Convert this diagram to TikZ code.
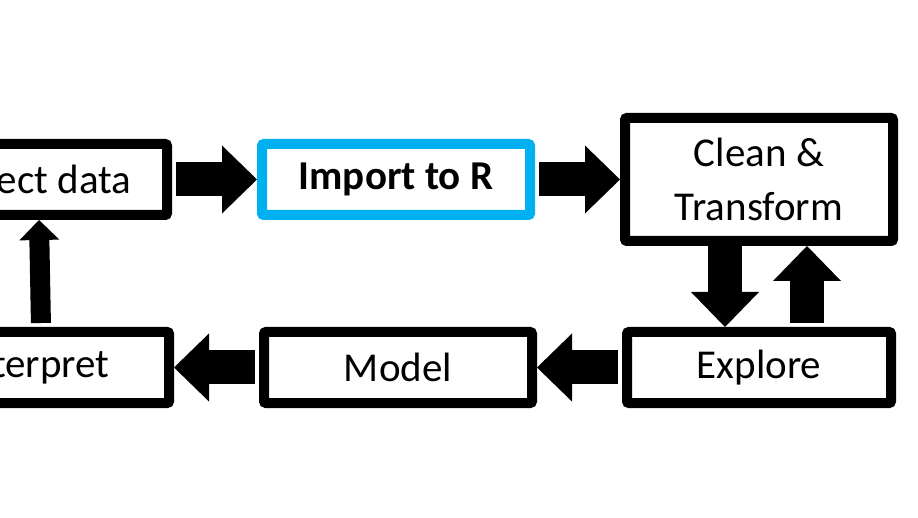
\documentclass[tikz,border=0pt]{standalone}
\usepackage{fontspec}
\setmainfont{Carlito}
\usepackage{xcolor}
\usepackage{tikz}
\usetikzlibrary{arrows.meta, positioning, calc}
\definecolor{importblue}{RGB}{0,176,240}
\tikzstyle{stage} = [rectangle, rounded corners=2pt, minimum width=268pt, minimum height=71pt, line width=10pt, text centered, draw=black, fill=white, font=\fontsize{41}{54}\selectfont]
\tikzstyle{bigarrow} = [line width=34pt, shorten <=4pt, -{Triangle[width=68pt, length=35pt, line width=0pt]}]
\tikzstyle{smallarrow} = [line width=20pt, shorten <=4pt, -{Triangle[width=40pt, length=20pt, line width=0pt]}]

\begin{document}
\begin{tikzpicture}[x=1pt, y=1pt]
    \useasboundingbox (0,0) rectangle (918,517);
    
    % Top row
    \node[stage] (collect) at (33,337.5) {Collect data};
    \node[stage, draw=importblue, font=\fontsize{41}{54}\selectfont\bfseries, right=85pt of collect] (import) {Import to R};
    \node[stage, minimum height=123pt, align=center, right=85pt of import] (clean) {Clean \&\\Transform};
    
    % Bottom row
    \node[stage, minimum width=264pt, below=81pt of clean] (explore) {Explore};
    \node[stage, left=85pt of explore] (model) {Model};
    \node[stage, left=85pt of model] (interpret) {Interpret};
    
    % Flows
    \coordinate (down) at ([xshift=-34pt]clean.south);
    \coordinate (up) at ([xshift=48pt]explore.north);
    \draw[bigarrow] (collect.east) -- (import.west);
    \draw[bigarrow] (import.east) -- (clean.west);
    \draw[bigarrow, shorten <=0pt] (down) -- (down |- explore.north);
    \draw[bigarrow] (up) -- (up |- clean.south);
    \draw[bigarrow] (explore.west) -- (model.east);
    \draw[bigarrow] (model.west) -- (interpret.east);
    \draw[smallarrow] ([xshift=6pt]interpret.north) -- ([xshift=6pt]collect.south);
    
\end{tikzpicture}
\end{document}
